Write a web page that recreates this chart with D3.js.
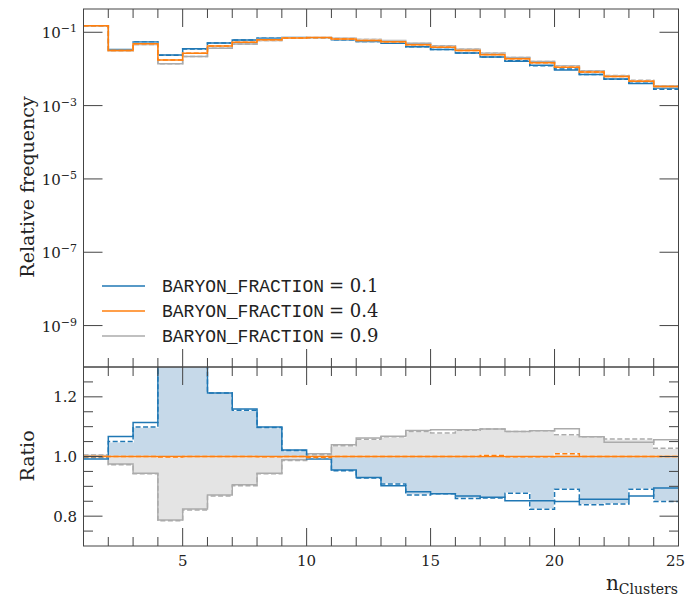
<!DOCTYPE html>
<html>
<head>
<meta charset="utf-8">
<script src="https://cdn.jsdelivr.net/npm/d3@7"></script>
<style>
  body { margin: 0; background: #fff; }
  svg { display: block; }
</style>
</head>
<body>
<svg id="chart" width="686" height="596"></svg>
<script>
// bin edges of the nClusters histogram
const binEdges = [1, 2, 3, 4, 5, 6, 7, 8, 9, 10, 11, 12, 13, 14, 15, 16, 17, 18, 19, 20, 21, 22, 23, 24, 25];

// relative frequency, solid and dashed versions of each sample
const freqBlue = [0.1498, 0.0337, 0.0546, 0.0239, 0.0355, 0.0513, 0.0618, 0.0692, 0.0715, 0.0709, 0.0626, 0.0558,
                  0.0501, 0.0405, 0.0341, 0.0274, 0.0211, 0.0162, 0.0126, 0.0094, 0.0071, 0.0053, 0.0040, 0.0030];
const freqBlueAlt = [0.1505, 0.0332, 0.0539, 0.0236, 0.0350, 0.0513, 0.0616, 0.0691, 0.0714, 0.0711, 0.0625, 0.0557,
                     0.0504, 0.0400, 0.0341, 0.0271, 0.0211, 0.0167, 0.0122, 0.0099, 0.0070, 0.0052, 0.0041, 0.0028];
const freqOrange = [0.151, 0.0316, 0.049, 0.0176, 0.0267, 0.0423, 0.0533, 0.063, 0.070, 0.0715, 0.0656, 0.060,
                    0.0555, 0.0459, 0.039, 0.0316, 0.0245, 0.019, 0.0148, 0.0111, 0.0083, 0.0062, 0.0046, 0.0033];
const freqOrangeAlt = [0.151, 0.0316, 0.049, 0.0176, 0.0267, 0.0423, 0.0533, 0.063, 0.070, 0.0713, 0.0656, 0.060,
                       0.0555, 0.0459, 0.039, 0.0316, 0.0246, 0.019, 0.0148, 0.0112, 0.0083, 0.0062, 0.0046, 0.0033];
const freqGray = [0.1515, 0.0308, 0.0463, 0.0139, 0.0220, 0.0368, 0.0482, 0.0595, 0.0692, 0.0721, 0.0682, 0.0637,
                  0.0593, 0.0499, 0.0425, 0.0344, 0.0268, 0.0206, 0.0160, 0.0121, 0.0088, 0.0065, 0.0048, 0.0035];
const freqGrayAlt = [0.1518, 0.0307, 0.0462, 0.0138, 0.0219, 0.0367, 0.0481, 0.0593, 0.0691, 0.0719, 0.0680, 0.0635,
                     0.0592, 0.0498, 0.0421, 0.0344, 0.0268, 0.0206, 0.0160, 0.0119, 0.0088, 0.0066, 0.0049, 0.0034];

// ratio to BARYON_FRACTION = 0.4
const ratioBlue = [0.992, 1.067, 1.114, 1.38, 1.34, 1.213, 1.159, 1.099, 1.022, 0.992, 0.955, 0.930,
                   0.902, 0.882, 0.875, 0.868, 0.863, 0.852, 0.852, 0.849, 0.857, 0.857, 0.868, 0.894];
const ratioBlueAlt = [0.997, 1.050, 1.099, 1.36, 1.32, 1.213, 1.155, 1.097, 1.020, 0.994, 0.952, 0.928,
                      0.908, 0.871, 0.875, 0.859, 0.861, 0.877, 0.823, 0.890, 0.838, 0.841, 0.890, 0.849];
const ratioOrange = [1, 1, 1, 1, 1, 1, 1, 1, 1, 1, 1, 1, 1, 1, 1, 1, 1, 1, 1, 1, 1, 1, 1, 1];
const ratioOrangeAlt = [1.0, 1.0, 1.0, 0.998, 1.0, 1.0, 1.0, 0.999, 1.0, 0.997, 1.0, 1.0,
                        1.0, 1.0, 1.0, 1.0, 1.003, 0.999, 0.999, 1.009, 1.0, 1.0, 1.0, 1.0];
const ratioGray = [1.003, 0.975, 0.944, 0.787, 0.824, 0.871, 0.905, 0.944, 0.989, 1.009, 1.039, 1.062,
                   1.068, 1.087, 1.090, 1.090, 1.092, 1.084, 1.086, 1.093, 1.066, 1.048, 1.048, 1.056];
const ratioGrayAlt = [1.005, 0.972, 0.942, 0.785, 0.821, 0.868, 0.902, 0.942, 0.987, 1.006, 1.036, 1.058,
                      1.066, 1.084, 1.079, 1.088, 1.092, 1.084, 1.086, 1.073, 1.066, 1.059, 1.059, 1.028];

const legendLabels = ['BARYON_FRACTION', 'BARYON_FRACTION', 'BARYON_FRACTION'];
const legendValues = ['0.1', '0.4', '0.9'];
const logTickExps = [-1, -3, -5, -7, -9];
const ratioMajor = [0.8, 1.0, 1.2];
const ratioMinor = [0.75, 0.85, 0.9, 0.95, 1.05, 1.1, 1.15, 1.25];
const xLabelTicks = [5, 10, 15, 20, 25];

const cBlue = '#1f77b4', cOrange = '#ff7f0e', cGray = '#ababab';
const serif = "'DejaVu Serif', serif";

const svg = d3.select('#chart');
const left = 83.5, right = 678.5, topY = 9, midY = 367, botY = 546;

const x = d3.scaleLinear().domain([1, 25]).range([left, right]);
const yTop = d3.scaleLog().domain([Math.pow(10, -10.13), Math.pow(10, -0.365)]).range([midY, topY]);
const yRat = d3.scaleLinear().domain([0.7, 1.3]).range([botY, midY]);

function stepPoints(vals) {
    const pts = vals.map((v, i) => [binEdges[i], v]);
    pts.push([binEdges[binEdges.length - 1], vals[vals.length - 1]]);
    return pts;
}

function drawStep(g, vals, y, color, dashed) {
    const line = d3.line().curve(d3.curveStepAfter)
        .x(d => x(d[0])).y(d => y(d[1]));
    const pts = stepPoints(vals);
    if (dashed) {
        g.append('path').attr('d', line(pts)).attr('fill', 'none')
            .attr('stroke', '#fff').attr('stroke-width', 1.6);
        g.append('path').attr('d', line(pts)).attr('fill', 'none')
            .attr('stroke', color).attr('stroke-width', 1.5)
            .attr('stroke-dasharray', '5,2.5');
    } else {
        g.append('path').attr('d', line(pts)).attr('fill', 'none')
            .attr('stroke', color).attr('stroke-width', 1.5);
    }
}

function drawFill(g, vals, color) {
    const area = d3.area().curve(d3.curveStepAfter)
        .x(d => x(d[0])).y0(yRat(1)).y1(d => yRat(d[1]));
    g.append('path').attr('d', area(stepPoints(vals))).attr('fill', color).attr('stroke', 'none');
}

// clip regions
const defs = svg.append('defs');
defs.append('clipPath').attr('id', 'clipTop').append('rect')
    .attr('x', left).attr('y', topY).attr('width', right - left).attr('height', midY - topY);
defs.append('clipPath').attr('id', 'clipRat').append('rect')
    .attr('x', left).attr('y', midY).attr('width', right - left).attr('height', botY - midY);

// top panel: dashed first, solid on top
const gTop = svg.append('g').attr('clip-path', 'url(#clipTop)');
drawStep(gTop, freqGrayAlt, yTop, cGray, true);
drawStep(gTop, freqGray, yTop, cGray, false);
drawStep(gTop, freqBlueAlt, yTop, cBlue, true);
drawStep(gTop, freqBlue, yTop, cBlue, false);
drawStep(gTop, freqOrangeAlt, yTop, cOrange, true);
drawStep(gTop, freqOrange, yTop, cOrange, false);

// ratio panel
const gRat = svg.append('g').attr('clip-path', 'url(#clipRat)');
drawFill(gRat, ratioGrayAlt, '#e4e4e4');
drawFill(gRat, ratioBlueAlt, '#c6d9e9');
drawStep(gRat, ratioGrayAlt, yRat, cGray, true);
drawStep(gRat, ratioGray, yRat, cGray, false);
drawStep(gRat, ratioBlueAlt, yRat, cBlue, true);
drawStep(gRat, ratioBlue, yRat, cBlue, false);
drawStep(gRat, ratioOrangeAlt, yRat, cOrange, true);
drawStep(gRat, ratioOrange, yRat, cOrange, false);

// ticks (inside, on all sides)
const axColor = '#444';
function xTicks(yPos, dir) {
    binEdges.forEach(v => {
        const len = v % 5 === 0 ? 18 : 9;
        svg.append('line').attr('x1', x(v)).attr('x2', x(v))
            .attr('y1', yPos).attr('y2', yPos + dir * len)
            .attr('stroke', axColor).attr('stroke-width', 1);
    });
}
xTicks(topY, 1);
xTicks(midY, -1);
xTicks(midY, 1);
xTicks(botY, -1);

function yTick(yPos, len) {
    svg.append('line').attr('x1', left).attr('x2', left + len).attr('y1', yPos).attr('y2', yPos)
        .attr('stroke', axColor).attr('stroke-width', 1);
    svg.append('line').attr('x1', right).attr('x2', right - len).attr('y1', yPos).attr('y2', yPos)
        .attr('stroke', axColor).attr('stroke-width', 1);
}
logTickExps.forEach(e => yTick(yTop(Math.pow(10, e)), 19));
ratioMajor.forEach(v => yTick(yRat(v), 19));
ratioMinor.forEach(v => yTick(yRat(v), 9.5));

// frames
svg.append('rect').attr('x', left).attr('y', topY).attr('width', right - left).attr('height', midY - topY)
    .attr('fill', 'none').attr('stroke', axColor).attr('stroke-width', 1);
svg.append('rect').attr('x', left).attr('y', midY).attr('width', right - left).attr('height', botY - midY)
    .attr('fill', 'none').attr('stroke', axColor).attr('stroke-width', 1);

// tick labels
logTickExps.forEach(e => {
    const t = svg.append('text').attr('x', 77).attr('y', yTop(Math.pow(10, e)) + 6)
        .attr('text-anchor', 'end').attr('font-family', serif).attr('font-size', 15).attr('fill', '#222');
    t.append('tspan').text('10');
    t.append('tspan').attr('dy', -6).attr('font-size', 11).text('\u2212' + Math.abs(e));
});
ratioMajor.forEach(v => {
    svg.append('text').attr('x', 77).attr('y', yRat(v) + 5.5)
        .attr('text-anchor', 'end').attr('font-family', serif).attr('font-size', 15).attr('fill', '#222')
        .text(v.toFixed(1));
});
xLabelTicks.forEach(v => {
    const last = v === xLabelTicks[xLabelTicks.length - 1];
    svg.append('text').attr('x', last ? 685 : x(v)).attr('y', 566)
        .attr('text-anchor', last ? 'end' : 'middle').attr('font-family', serif).attr('font-size', 15).attr('fill', '#222')
        .text(v);
});

// axis titles
svg.append('text').attr('transform', 'translate(34,187) rotate(-90)')
    .attr('text-anchor', 'middle').attr('font-family', serif).attr('font-size', 19).attr('fill', '#222')
    .text('Relative frequency');
svg.append('text').attr('transform', 'translate(34,456) rotate(-90)')
    .attr('text-anchor', 'middle').attr('font-family', serif).attr('font-size', 19).attr('fill', '#222')
    .text('Ratio');
const xt = svg.append('text').attr('x', 678).attr('y', 590)
    .attr('text-anchor', 'end').attr('font-family', serif).attr('font-size', 20).attr('fill', '#222');
xt.append('tspan').text('n');
xt.append('tspan').attr('dy', 4).attr('font-size', 14).text('Clusters');

// legend
const legColors = [cBlue, cOrange, cGray];
legendLabels.forEach((lab, i) => {
    const ly = 286 + i * 25;
    svg.append('line').attr('x1', 102).attr('x2', 145).attr('y1', ly).attr('y2', ly)
        .attr('stroke', legColors[i]).attr('stroke-width', 1.5);
    const t = svg.append('text').attr('x', 162).attr('y', ly + 6).attr('fill', '#222');
    t.append('tspan').attr('font-family', "'Liberation Mono', monospace").attr('font-size', 18).text(lab);
    t.append('tspan').attr('font-family', serif).attr('font-size', 18).attr('dx', 5).text('= ' + legendValues[i]);
});
</script>
</body>
</html>
